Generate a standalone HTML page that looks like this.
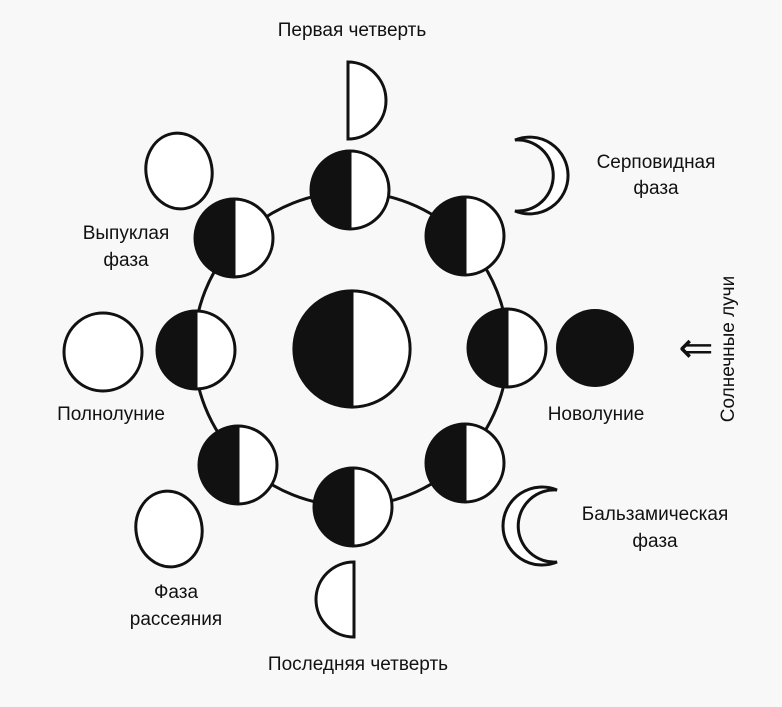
<!DOCTYPE html>
<html><head><meta charset="utf-8"><style>
html,body{margin:0;padding:0;background:#f8f8f8;}
svg{display:block;}
text{font-family:"Liberation Sans","DejaVu Sans",sans-serif;font-size:19px;fill:#111;}
</style></head><body>
<svg width="782" height="707" viewBox="0 0 782 707" xmlns="http://www.w3.org/2000/svg">
<rect width="782" height="707" fill="#f8f8f8"/>
<g stroke="#111" stroke-width="3" fill="none">
<circle cx="351" cy="349" r="157"/>
</g>
<defs>
<g id="m">
<circle r="39" fill="#fff" stroke="#111" stroke-width="3"/>
<path d="M0,-39 A39,39 0 0 0 0,39 Z" fill="#111"/>
<line x1="0" y1="-39" x2="0" y2="39" stroke="#111" stroke-width="3"/>
</g>
</defs>
<use href="#m" x="350" y="190"/>
<use href="#m" x="234" y="238"/>
<use href="#m" x="465" y="236"/>
<use href="#m" x="196" y="350"/>
<use href="#m" x="507" y="348"/>
<use href="#m" x="238" y="465"/>
<use href="#m" x="353" y="507"/>
<use href="#m" x="465" y="463"/>
<g transform="translate(352,349) scale(1.49)">
<circle r="39" fill="#fff" stroke="#111" stroke-width="2"/>
<path d="M0,-39 A39,39 0 0 0 0,39 Z" fill="#111"/>
<line x1="0" y1="-39" x2="0" y2="39" stroke="#111" stroke-width="2"/>
</g>
<g stroke="#111" stroke-width="3" fill="#fff" stroke-linejoin="miter">
<path d="M348,62 A38,38.5 0 0 1 348,139 Z"/>
<path d="M354,562 A38,37.5 0 0 0 354,637 Z"/>
<path d="M515,140 A38.4,38.4 0 1 1 515,211 A35.6,35.6 0 1 0 515,140 Z"/>
<path d="M557,490 A39,39 0 1 0 557,562 A36.1,36.1 0 1 1 557,490 Z"/>
<ellipse cx="179" cy="171" rx="33" ry="38" transform="rotate(-10 179 171)"/>
<ellipse cx="169" cy="529" rx="33" ry="38" transform="rotate(-10 169 529)"/>
<circle cx="103" cy="352" r="39"/>
</g>
<circle cx="595" cy="348" r="39" fill="#111"/>
<text x="352" y="36" text-anchor="middle">Первая четверть</text>
<text x="656" y="168" text-anchor="middle">Серповидная</text>
<text x="656" y="194" text-anchor="middle">фаза</text>
<text x="126" y="239" text-anchor="middle">Выпуклая</text>
<text x="126" y="266" text-anchor="middle">фаза</text>
<text x="111" y="420" text-anchor="middle">Полнолуние</text>
<text x="596" y="420" text-anchor="middle">Новолуние</text>
<text x="655" y="520" text-anchor="middle">Бальзамическая</text>
<text x="655" y="547" text-anchor="middle">фаза</text>
<text x="176" y="598" text-anchor="middle">Фаза</text>
<text x="176" y="625" text-anchor="middle">рассеяния</text>
<text x="358" y="670" text-anchor="middle">Последняя четверть</text>
<text x="696" y="362" text-anchor="middle" style="font-size:42px">⇐</text>
<text transform="translate(734,349) rotate(-90)" text-anchor="middle">Солнечные лучи</text>
</svg>
</body></html>
